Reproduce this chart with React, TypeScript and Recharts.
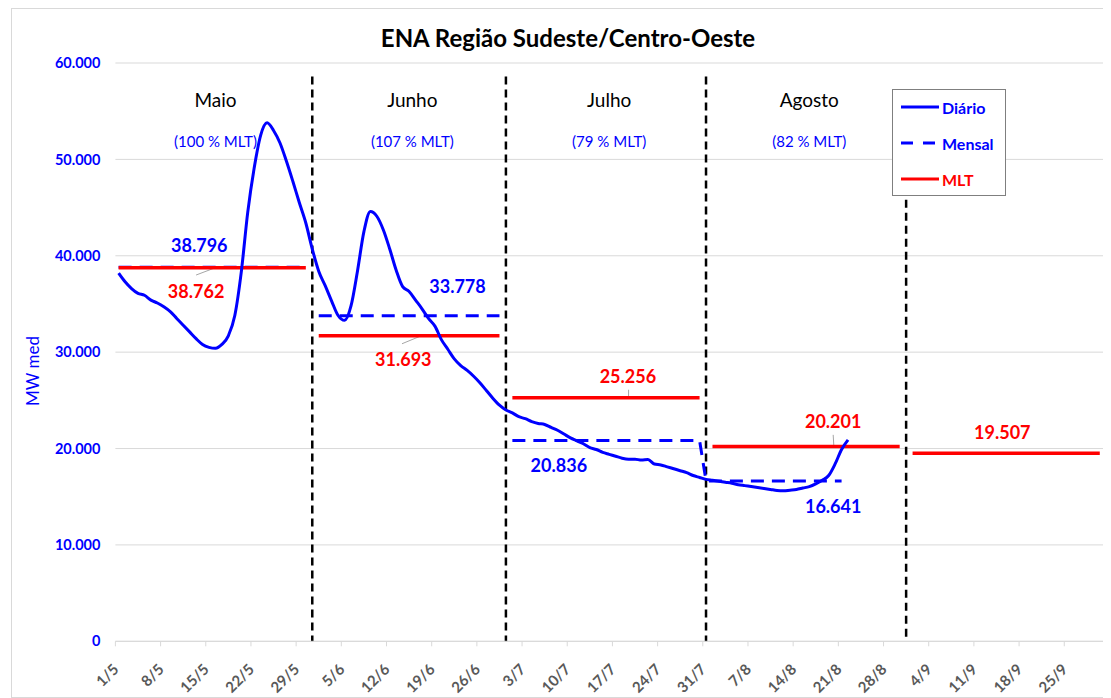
import React from 'react'
import {
  ComposedChart,
  Line,
  XAxis,
  YAxis,
  CartesianGrid,
  ReferenceLine,
  ReferenceDot,
  Legend,
} from 'recharts'

const FONT = 'Lato, "Open Sans", sans-serif'
const BLUE = '#0000ff'
const RED = '#ff0000'

// months shown (Maio..Setembro), day index of first day of each month
const MONTHS = ['Maio', 'Junho', 'Julho', 'Agosto']
const MONTH_PCT = ['(100 % MLT)', '(107 % MLT)', '(79 % MLT)', '(82 % MLT)']
const MONTH_START = [0, 31, 61, 92, 123]
const N_DAYS = 153

const TICK_LABELS = [
  '1/5', '8/5', '15/5', '22/5', '29/5', '5/6', '12/6', '19/6', '26/6', '3/7', '10/7',
  '17/7', '24/7', '31/7', '7/8', '14/8', '21/8', '28/8', '4/9', '11/9', '18/9', '25/9',
]
const TICK_DAYS = TICK_LABELS.map((_, i) => i * 7)

// ENA diária (MWmed), 1/5 .. 22/8
const DIARIO = [
  // maio
  38200, 37300, 36600, 36100, 35900, 35400, 35100, 34700, 34200, 33500, 32800,
  32100, 31400, 30800, 30500, 30400, 30800, 31700, 33800, 38300, 44500, 49100,
  52500, 53800, 53000, 51700, 49800, 47700, 45500, 43400, 40700,
  // junho
  38400, 36900, 35300, 33800, 33300, 34800, 38400, 42500, 44600, 44100, 42700,
  40700, 38500, 36800, 36300, 35400, 34500, 33500, 32700, 31300, 30300, 29300,
  28600, 28100, 27500, 26800, 26000, 25200, 24500, 24000,
  // julho
  23700, 23300, 23100, 22800, 22600, 22500, 22200, 21900, 21500, 21100, 20800,
  20500, 20100, 19900, 19600, 19400, 19200, 19000, 18900, 18900, 18800, 18850,
  18400, 18300, 18100, 17900, 17700, 17500, 17200, 17000, 16800,
  // agosto
  16700, 16600, 16500, 16400, 16250, 16150, 16050, 15950, 15850, 15750, 15650,
  15620, 15680, 15750, 15900, 16050, 16330, 16700, 17200, 18400, 19900, 20900,
]

const MENSAL = [38796, 33778, 20836, 16641]
const MENSAL_SPAN = [[0, 29], [31, 59], [61, 90], [91, 112]]
const MLT = [38762, 31693, 25256, 20201, 19507]
const MLT_SPAN = [[0, 29], [31, 59], [61, 90], [92, 121], [123, 152]]

const Y_TICKS = [0, 10000, 20000, 30000, 40000, 50000, 60000]

const fmt = (v: number) =>
  v === 0 ? '0' : `${Math.floor(v / 1000)}.${String(v % 1000).padStart(3, '0')}`

const spanValue = (vals: number[], spans: number[][], d: number) => {
  for (let i = 0; i < spans.length; i++) {
    if (d >= spans[i][0] && d <= spans[i][1]) return vals[i]
  }
  return null
}

const data = Array.from({ length: N_DAYS }, (_, d) => ({
  x: d + 0.5,
  diario: d < DIARIO.length ? DIARIO[d] : null,
  mensal: spanValue(MENSAL, MENSAL_SPAN, d),
  mlt: spanValue(MLT, MLT_SPAN, d),
}))

// annotation placement (day, MWmed)
const VALUE_LABELS = [
  { value: MENSAL[0], day: 13, y: 41150, color: BLUE },
  { value: MLT[0], day: 12.5, y: 36370, color: RED },
  { value: MENSAL[1], day: 53, y: 36840, color: BLUE },
  { value: MLT[1], day: 44.6, y: 29310, color: RED },
  { value: MLT[2], day: 79.4, y: 27550, color: RED },
  { value: MENSAL[2], day: 68.7, y: 18310, color: BLUE },
  { value: MLT[3], day: 111.2, y: 22820, color: RED },
  { value: MENSAL[3], day: 111.2, y: 14000, color: BLUE },
  { value: MLT[4], day: 137.4, y: 21720, color: RED },
]
const LEADERS = [
  [[12.5, 38000], [15.4, 38740]],
  [[44.4, 30870], [47.5, 31730]],
  [[79.5, 26100], [79.5, 25340]],
  [[111.2, 21420], [111.3, 20280]],
]
const SEP_TOP = [58600, 58600, 58600, 45800]

const W = 1097
const H = 688
const PLOT_LEFT = 103.4
const PLOT_RIGHT = 6
const DAY_PX = (W - PLOT_LEFT - PLOT_RIGHT) / N_DAYS

const LEGEND_ITEMS = [
  { label: 'Diário', color: BLUE, dash: undefined },
  { label: 'Mensal', color: BLUE, dash: '12 10' },
  { label: 'MLT', color: RED, dash: undefined },
]

const XTick = (props: any) => {
  const { x, y, payload } = props
  const label = TICK_LABELS[Math.round(payload.value / 7)]
  const tx = x + DAY_PX / 2 + 1
  const ty = y + 29
  return (
    <g>
      <line x1={x} x2={x} y1={y} y2={y + 5} stroke="#d9d9d9" />
      <text
        x={tx}
        y={ty}
        textAnchor="end"
        transform={`rotate(-45 ${tx} ${ty})`}
        fill="#595959"
        fontSize={15}
        fontWeight={700}
        fontFamily={FONT}
      >
        {label}
      </text>
    </g>
  )
}

const textShape = (text: string, color: string, size: number, weight: number) => (p: any) => (
  <text
    x={p.cx}
    y={p.cy}
    textAnchor="middle"
    dominantBaseline="central"
    fill={color}
    fontSize={size}
    fontWeight={weight}
    fontFamily={FONT}
  >
    {text}
  </text>
)

const LegendBox = () => (
  <div
    style={{
      position: 'relative',
      width: 114,
      height: 107,
      border: '1.5px solid #7f7f7f',
      boxSizing: 'border-box',
      background: '#fff',
      fontFamily: FONT,
      fontWeight: 700,
      fontSize: 16,
    }}
  >
    {LEGEND_ITEMS.map((it, i) => (
      <div
        key={it.label}
        style={{
          position: 'absolute',
          left: 8,
          top: 7 + i * 36,
          height: 20,
          display: 'flex',
          alignItems: 'center',
          color: it.color,
          whiteSpace: 'nowrap',
        }}
      >
        <svg width={38} height={6}>
          <line x1={0} y1={3} x2={38} y2={3} stroke={it.color} strokeWidth={3} strokeDasharray={it.dash} />
        </svg>
        <span style={{ marginLeft: 3 }}>{it.label}</span>
      </div>
    ))}
  </div>
)

export default function App() {
  return (
    <div
      style={{
        position: 'relative',
        width: W,
        height: H,
        marginLeft: 3,
        border: '1px solid #d9d9d9',
        background: '#fff',
      }}
    >
      <div
        style={{
          position: 'absolute',
          left: 336,
          top: 15,
          width: 440,
          textAlign: 'center',
          fontFamily: FONT,
          fontWeight: 700,
          fontSize: 24,
          lineHeight: '28px',
          color: '#000',
        }}
      >
        ENA Região Sudeste/Centro-Oeste
      </div>
      <div
        style={{
          position: 'absolute',
          left: 20,
          top: 362,
          transform: 'translate(-50%, -50%) rotate(-90deg)',
          fontFamily: FONT,
          fontSize: 17,
          color: BLUE,
          whiteSpace: 'nowrap',
        }}
      >
        MW med
      </div>
      <ComposedChart width={W} height={H} data={data} margin={{ top: 54, right: PLOT_RIGHT, bottom: 0, left: 0 }}>
        <CartesianGrid vertical={false} stroke="#d9d9d9" />
        <XAxis
          type="number"
          dataKey="x"
          domain={[0, N_DAYS]}
          ticks={TICK_DAYS}
          interval={0}
          tick={<XTick />}
          tickLine={false}
          tickSize={0}
          tickMargin={0}
          axisLine={{ stroke: '#d9d9d9' }}
          height={H - 54 - 578.3}
        />
        <YAxis
          domain={[0, 60000]}
          ticks={Y_TICKS}
          tickFormatter={fmt}
          axisLine={false}
          tickLine={false}
          tickSize={0}
          tickMargin={15}
          width={PLOT_LEFT}
          tick={{ fill: BLUE, fontSize: 14.5, fontWeight: 700, fontFamily: FONT }}
        />
        <Legend
          layout="horizontal"
          verticalAlign="middle"
          align="center"
          content={<LegendBox />}
          wrapperStyle={{ position: 'absolute', left: 880, top: 80, width: 114, height: 107 }}
        />
        {MONTH_START.slice(1).map((s, i) => (
          <ReferenceLine
            key={`sep${i}`}
            segment={[{ x: s - 0.5, y: SEP_TOP[i] }, { x: s - 0.5, y: 0 }]}
            stroke="#000"
            strokeWidth={2.5}
            strokeDasharray="8 5"
          />
        ))}
        {LEADERS.map((l, i) => (
          <ReferenceLine
            key={`ld${i}`}
            segment={[{ x: l[0][0], y: l[0][1] }, { x: l[1][0], y: l[1][1] }]}
            stroke="#a6a6a6"
            strokeWidth={1}
          />
        ))}
        <Line dataKey="mensal" type="linear" stroke={BLUE} strokeWidth={3} strokeDasharray="13 8" dot={false} isAnimationActive={false} legendType="none" />
        <Line dataKey="mlt" type="linear" stroke={RED} strokeWidth={3.5} dot={false} isAnimationActive={false} legendType="none" />
        <Line dataKey="diario" type="monotone" stroke={BLUE} strokeWidth={3} dot={false} isAnimationActive={false} legendType="none" />
        {MONTHS.map((m, i) => (
          <ReferenceDot
            key={`m${i}`}
            x={(MONTH_START[i] + MONTH_START[i + 1]) / 2}
            y={56200}
            r={0}
            shape={textShape(m, '#000', 19, 400)}
          />
        ))}
        {MONTH_PCT.map((m, i) => (
          <ReferenceDot
            key={`p${i}`}
            x={(MONTH_START[i] + MONTH_START[i + 1]) / 2}
            y={51950}
            r={0}
            shape={textShape(m, BLUE, 15, 400)}
          />
        ))}
        {VALUE_LABELS.map((l, i) => (
          <ReferenceDot
            key={`v${i}`}
            x={l.day}
            y={l.y}
            r={0}
            shape={textShape(fmt(l.value), l.color, 18, 700)}
          />
        ))}
      </ComposedChart>
    </div>
  )
}
